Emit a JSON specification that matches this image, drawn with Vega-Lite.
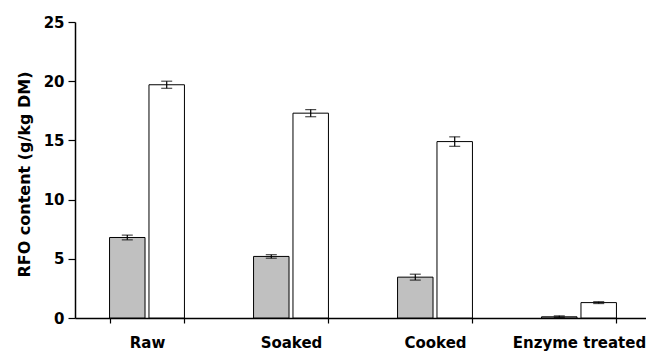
{
  "$schema": "https://vega.github.io/schema/vega-lite/v6.json",
  "autosize": {"type": "none"},
  "padding": {"left": 75, "top": 22, "right": 0, "bottom": 34},
  "width": 576,
  "height": 296,
  "background": "white",
  "config": {
    "view": {"stroke": null},
    "font": "DejaVu Sans",
    "axis": {"grid": false, "domainColor": "black", "tickColor": "black", "labelColor": "black", "titleColor": "black", "labelFont": "DejaVu Sans", "titleFont": "DejaVu Sans", "labelFontWeight": "bold", "titleFontWeight": "bold", "labelFontSize": 15, "titleFontSize": 16, "domainWidth": 1.5, "tickWidth": 1.2}
  },
  "data": {
    "values": [
      {"treatment": "Raw", "group": "A", "value": 6.8, "lo": 6.6, "hi": 7.0},
      {"treatment": "Raw", "group": "B", "value": 19.7, "lo": 19.4, "hi": 20.0},
      {"treatment": "Soaked", "group": "A", "value": 5.2, "lo": 5.05, "hi": 5.35},
      {"treatment": "Soaked", "group": "B", "value": 17.3, "lo": 17.0, "hi": 17.6},
      {"treatment": "Cooked", "group": "A", "value": 3.45, "lo": 3.2, "hi": 3.7},
      {"treatment": "Cooked", "group": "B", "value": 14.9, "lo": 14.5, "hi": 15.3},
      {"treatment": "Enzyme treated", "group": "A", "value": 0.1, "lo": 0.05, "hi": 0.18},
      {"treatment": "Enzyme treated", "group": "B", "value": 1.3, "lo": 1.22, "hi": 1.38}
    ]
  },
  "encoding": {
    "x": {
      "field": "treatment", "type": "nominal",
      "sort": ["Raw", "Soaked", "Cooked", "Enzyme treated"],
      "scale": {"paddingInner": 0.48, "paddingOuter": 0.24},
      "axis": {"title": null, "labelAngle": 0, "tickBand": "extent", "tickSize": 5, "labelPadding": 12}
    },
    "xOffset": {"field": "group", "type": "nominal", "scale": {"paddingInner": 0.1, "paddingOuter": 0}}
  },
  "layer": [
    {
      "mark": {"type": "bar", "stroke": "black", "strokeWidth": 1},
      "encoding": {
        "y": {
          "field": "value", "type": "quantitative",
          "scale": {"domain": [0, 25], "nice": false},
          "axis": {"title": "RFO content (g/kg DM)", "values": [0, 5, 10, 15, 20, 25], "tickSize": 7, "labelPadding": 4, "titlePadding": 11, "titleY": 152}
        },
        "fill": {"field": "group", "type": "nominal", "scale": {"domain": ["A", "B"], "range": ["#c0c0c0", "#ffffff"]}, "legend": null}
      }
    },
    {
      "mark": {"type": "rule", "color": "black", "strokeWidth": 1.2},
      "encoding": {
        "y": {"field": "lo", "type": "quantitative"},
        "y2": {"field": "hi"}
      }
    },
    {
      "mark": {"type": "tick", "color": "black", "size": 11, "thickness": 1.2},
      "encoding": {"y": {"field": "lo", "type": "quantitative"}}
    },
    {
      "mark": {"type": "tick", "color": "black", "size": 11, "thickness": 1.2},
      "encoding": {"y": {"field": "hi", "type": "quantitative"}}
    }
  ]
}
